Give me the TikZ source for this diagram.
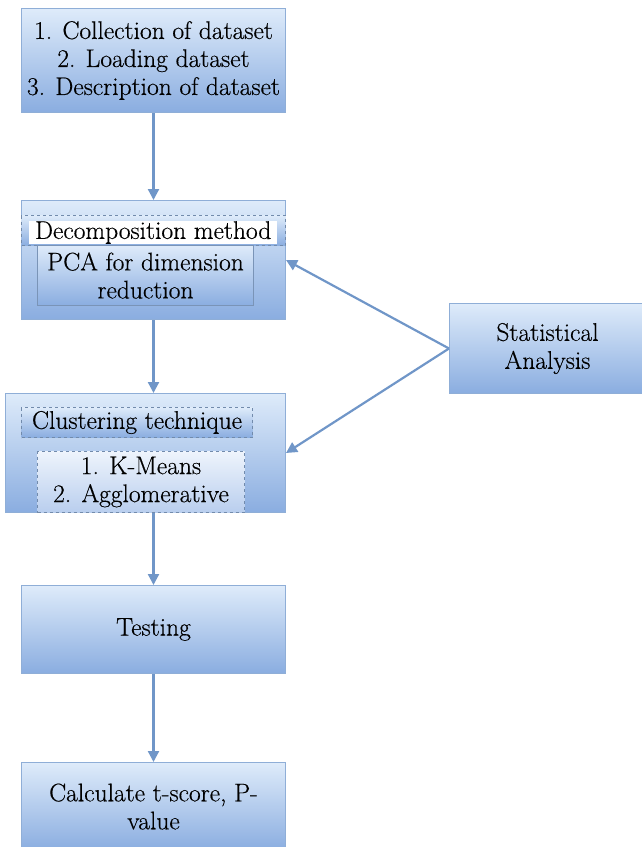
\documentclass[tikz,border=0pt]{standalone}
\usepackage{fontspec}
\setmainfont{Latin Modern Roman}[FakeBold=0.4]
\usetikzlibrary{arrows.meta}
\definecolor{topc}{RGB}{222,235,250}
\definecolor{botc}{RGB}{138,173,224}
\definecolor{bordc}{RGB}{143,174,215}
\definecolor{arrc}{RGB}{112,150,200}
\definecolor{ltop}{RGB}{238,244,252}
\definecolor{lbot}{RGB}{185,206,238}
\tikzset{
  box/.style={draw=bordc, line width=1pt, top color=topc, bottom color=botc,
    align=center, inner sep=0pt, anchor=north west,
    font=\rmfamily\fontsize{25.5}{28}\selectfont},
  dbox/.style={box, dashed, draw=bordc!80!black},
  arr/.style={draw=arrc, line width=2.2pt, -{Triangle[length=11pt,width=11pt]}},
}
\begin{document}
\begin{tikzpicture}[x=1pt,y=-1pt]
\useasboundingbox (0,0) rectangle (642,847);
\node[box, minimum width=264, minimum height=104] (n1) at (21,8)
  {1. Collection of dataset\\2. Loading dataset\\3. Description of dataset};
\node[box, minimum width=264, minimum height=119] (n2) at (21,200) {};
\node[dbox, minimum width=264, minimum height=30] (band) at (21,215) {};
\node[anchor=north west, fill=white, inner sep=0pt, minimum width=248, minimum height=22,
  font=\rmfamily\fontsize{25.5}{28}\selectfont] (declab) at (29,221) {Decomposition method};
\node[box, draw=bordc!85!black, minimum width=216, minimum height=60] (pca) at (37,245)
  {PCA for dimension\\reduction};
\node[box, minimum width=280, minimum height=119] (n3) at (5,393) {};
\node[dbox, minimum width=231, minimum height=30] (clus) at (21,407) {Clustering technique};
\node[dbox, top color=ltop, bottom color=lbot, minimum width=207, minimum height=61] (km) at (37,451)
  {1. K-Means\\2. Agglomerative};
\node[box, minimum width=264, minimum height=88] (test) at (21,585) {Testing};
\node[box, minimum width=264, minimum height=88] (calc) at (21,762)
  {Calculate t-score, P-\\value};
\node[box, minimum width=196, minimum height=90] (stat) at (449,303)
  {Statistical\\Analysis};
\draw[arr] (n1.south) -- (n2.north);
\draw[arr] (n2.south) -- (n2.south |- n3.north);
\draw[arr] (test.north |- n3.south) -- (test.north);
\draw[arr] (test.south) -- (calc.north);
\draw[arr] (stat.west) -- (n2.east);
\draw[arr] (stat.west) -- (n3.east);
\end{tikzpicture}
\end{document}
